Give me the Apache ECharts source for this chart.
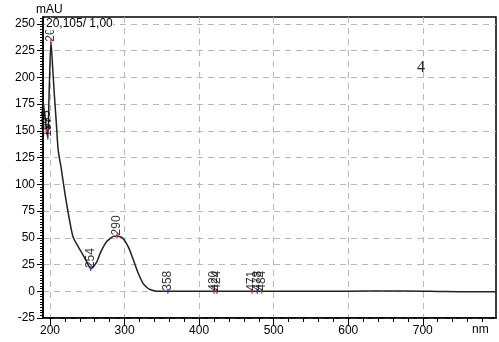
<!DOCTYPE html>
<html><head><meta charset="utf-8">
<script src="https://cdn.jsdelivr.net/npm/echarts@6/dist/echarts.min.js"></script>
<style>html,body{margin:0;padding:0;background:#fff}#c{width:499px;height:342px}</style>
</head><body><div id="c"></div>
<script>
// Spectrum data (nm, mAU)
const wavelengths = [190.6,193,195.5,197,199,201.3,203.5,206,208.5,211,214.8,220,224,227,231,238,243,247,251,254.5,258,262.7,267,271.5,276,280.5,285,290,294,298,305,312,318.5,325,330,334,341,350,360,400,450,500,550,600,650,700,720,760,798];
const absorbance  = [178,165,150,144,190,233,210,182,157,132,116,91.5,75,63.6,50.8,41.5,35.5,30.6,25,21.2,23,27.4,35,41.5,46.5,49.3,51.3,51.8,51,49.3,41.5,29,16.6,7.2,3.5,1.6,0.3,0,0,0,0,0,0,0,0.3,0,-0.2,-0.5,-0.5];

// Peak / valley annotations
const peakText = ['195','197','20','254','290','358','420','424','471','478','484'];
const peakNm   = [195.5,197,201.3,254.5,290,358,420,424,471,478,484];
const peakVal  = [150,144,233,21.2,51.8,0,0,0,0,0,0];
const peakKind = ['max','min','max','min','max','min','max','min','max','min','max'];

// Axis ticks
const xLabelValues = [200,300,400,500,600,700];
const xMinorStep = 20;
const yLabelValues = [-25,0,25,50,75,100,125,150,175,200,225,250];
const yMinorStep = 2.5;
const xMin = 190.6, xMax = 798.2;
const yMin = -25, yMax = 256.5;

const xMinorValues = [];
for (let v = 200; v < xMax; v += xMinorStep) xMinorValues.push(v);
const yMinorValues = [];
for (let v = yMin; v < yMax; v += yMinorStep) yMinorValues.push(v);

const FONT = 'Liberation Sans, Arial, sans-serif';
const chart = echarts.init(document.getElementById('c'), null, {renderer:'canvas'});

const curve = wavelengths.map((w,i)=>[w, absorbance[i]]);
const peaks = peakText.map((t,i)=>({
  name: t,
  value: [peakNm[i], peakVal[i]],
  itemStyle: {color: peakKind[i]==='max' ? '#e8202a' : '#2030e8'}
}));
const gridLine = {show: true, lineStyle: {color: '#b8b8b8', type: [6,5], width: 1}};

chart.setOption({
  animation: false,
  backgroundColor: '#fff',
  grid: {left: 43, right: 3, top: 17, bottom: 24, show: true, borderColor: '#000', borderWidth: 1.5, backgroundColor: 'transparent'},
  xAxis: [{
    type: 'value', min: xMin, max: xMax, position: 'bottom',
    axisLine: {show: true, onZero: false, lineStyle: {color: '#000', width: 1.5}},
    axisTick: {show: true, customValues: xMinorValues, length: 4, lineStyle: {color: '#000', width: 1}},
    axisLabel: {show: false},
    splitLine: {show: false}
  },{
    type: 'value', min: xMin, max: xMax, position: 'bottom',
    axisLine: {show: false, onZero: false},
    axisTick: {show: true, customValues: xLabelValues, length: 7, lineStyle: {color: '#000', width: 1}},
    axisLabel: {show: true, customValues: xLabelValues, margin: 7, color: '#000', fontSize: 12, fontFamily: FONT},
    splitLine: gridLine
  }],
  yAxis: [{
    type: 'value', min: yMin, max: yMax, position: 'left',
    axisLine: {show: true, onZero: false, lineStyle: {color: '#000', width: 1.5}},
    axisTick: {show: true, customValues: yMinorValues, length: 3, lineStyle: {color: '#000'}},
    axisLabel: {show: false},
    splitLine: {show: false}
  },{
    type: 'value', min: yMin, max: yMax, position: 'left',
    axisLine: {show: false, onZero: false},
    axisTick: {show: true, customValues: yLabelValues, length: 6, lineStyle: {color: '#000'}},
    axisLabel: {show: true, customValues: yLabelValues, margin: 8, color: '#000', fontSize: 12, fontFamily: FONT},
    splitLine: gridLine
  }],
  series: [{
    type: 'line', xAxisIndex: 0, yAxisIndex: 0, data: curve, smooth: 0.3, symbol: 'none',
    lineStyle: {color: '#222', width: 1.5}, z: 3
  },{
    type: 'scatter', xAxisIndex: 0, yAxisIndex: 0, data: peaks, symbol: 'rect', symbolSize: [1.5, 5], z: 4,
    label: {show: true, formatter: '{b}', position: 'top', rotate: 90, align: 'left', verticalAlign: 'middle',
      distance: 1, offset: [-3, 0], color: '#000', fontSize: 12, fontFamily: FONT}
  }],
  graphic: [
    {type: 'text', left: 36, top: 4, z: 100, style: {text: 'mAU', font: '12px ' + FONT, fill: '#000'}},
    {type: 'text', left: 46, top: 18, z: 100, style: {text: '20,105/ 1,00', font: '12px ' + FONT, fill: '#000', backgroundColor: '#fff'}},
    {type: 'text', left: 472, top: 324, z: 100, style: {text: 'nm', font: '12px ' + FONT, fill: '#000'}},
    {type: 'text', left: 417, top: 60, z: 100, style: {text: '4', font: '16px Liberation Serif, serif', fill: '#222'}}
  ]
});
</script>
</body></html>
